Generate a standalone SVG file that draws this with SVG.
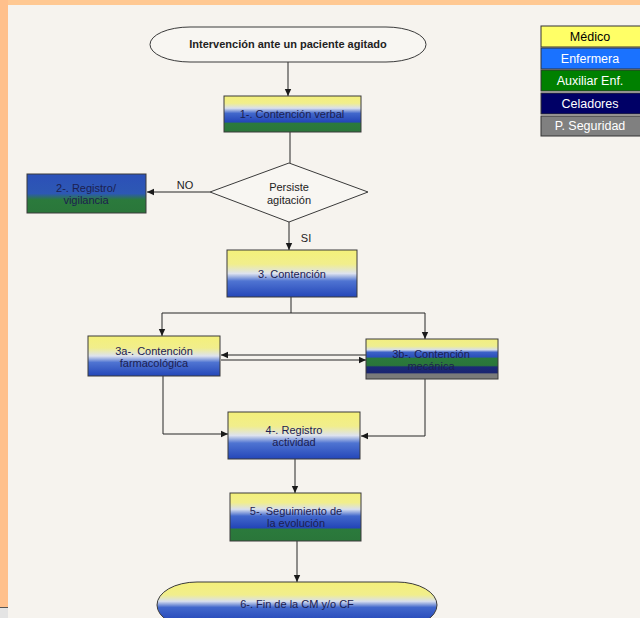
<svg xmlns="http://www.w3.org/2000/svg" width="640" height="618" viewBox="0 0 640 618">
<style>
.bx{stroke:#3a3a3a;stroke-width:1}
.t{font-family:"Liberation Sans",Arial,sans-serif;font-size:11px;fill:#1c2050;text-anchor:middle}
.tk{font-family:"Liberation Sans",Arial,sans-serif;font-size:11px;fill:#222;text-anchor:middle}
.c{fill:none;stroke:#262626;stroke-width:1}
.lg{font-family:"Liberation Sans",Arial,sans-serif;font-size:12.5px;text-anchor:middle}
</style>
<defs>
<marker id="ah" markerWidth="8" markerHeight="8" refX="7" refY="4" orient="auto" markerUnits="userSpaceOnUse">
<path d="M0,0.8 L7,4 L0,7.2 Z" fill="#1a1a1a"/>
</marker>
<linearGradient id="yb" x1="0" y1="0" x2="0" y2="1">
<stop offset="0" stop-color="#f4f07a"/>
<stop offset="0.3" stop-color="#f1ee8c"/>
<stop offset="0.5" stop-color="#dde2ee"/>
<stop offset="0.66" stop-color="#4f74d2"/>
<stop offset="1" stop-color="#2446b8"/>
</linearGradient>
<linearGradient id="ybg" x1="0" y1="0" x2="0" y2="1">
<stop offset="0" stop-color="#f4f07a"/>
<stop offset="0.2" stop-color="#f1ee8c"/>
<stop offset="0.34" stop-color="#d8dfee"/>
<stop offset="0.48" stop-color="#4268cc"/>
<stop offset="0.72" stop-color="#2446b8"/>
<stop offset="0.76" stop-color="#2b7a3c"/>
<stop offset="1" stop-color="#2a763a"/>
</linearGradient>
<linearGradient id="bg" x1="0" y1="0" x2="0" y2="1">
<stop offset="0" stop-color="#2c50b8"/>
<stop offset="0.5" stop-color="#2d58b4"/>
<stop offset="0.66" stop-color="#2b7a3c"/>
<stop offset="1" stop-color="#2a763a"/>
</linearGradient>
<linearGradient id="all" x1="0" y1="0" x2="0" y2="1">
<stop offset="0" stop-color="#f2ef80"/>
<stop offset="0.18" stop-color="#eeee90"/>
<stop offset="0.27" stop-color="#d6ddec"/>
<stop offset="0.33" stop-color="#3d62c8"/>
<stop offset="0.45" stop-color="#2a4fba"/>
<stop offset="0.48" stop-color="#2b7a3c"/>
<stop offset="0.66" stop-color="#2a763a"/>
<stop offset="0.7" stop-color="#1b2a78"/>
<stop offset="0.85" stop-color="#1a2470"/>
<stop offset="0.87" stop-color="#7a7a7a"/>
<stop offset="1" stop-color="#7a7a7a"/>
</linearGradient>
<linearGradient id="end" x1="0" y1="0" x2="0" y2="1">
<stop offset="0" stop-color="#f4f07a"/>
<stop offset="0.28" stop-color="#f1ee8c"/>
<stop offset="0.42" stop-color="#d8dfee"/>
<stop offset="0.55" stop-color="#4268cc"/>
<stop offset="0.86" stop-color="#2446b8"/>
<stop offset="0.9" stop-color="#2b7a3c"/>
<stop offset="1" stop-color="#2a763a"/>
</linearGradient>
</defs>
<rect x="0" y="0" width="640" height="618" fill="#f6f3ee"/>
<rect x="0" y="0" width="640" height="5" fill="#ffc892"/>
<rect x="0" y="0" width="8" height="607" fill="#ffc08c"/>
<rect x="0" y="607" width="8" height="1" fill="#555"/>
<rect x="0" y="608" width="8" height="10" fill="#e4e4e4"/>

<g id="connectors">
<path class="c" d="M288,62 V96" marker-end="url(#ah)"/>
<path class="c" d="M290,132 V163"/>
<path class="c" d="M210,192 H147" marker-end="url(#ah)"/>
<path class="c" d="M289,222 V250" marker-end="url(#ah)"/>
<path class="c" d="M291,297 V313 M162,313 H425"/>
<path class="c" d="M162,313 V336" marker-end="url(#ah)"/>
<path class="c" d="M425,313 V339" marker-end="url(#ah)"/>
<path class="c" d="M366,355 H221" marker-end="url(#ah)"/>
<path class="c" d="M221,360 H366" marker-end="url(#ah)"/>
<path class="c" d="M163,376 V434 H228" marker-end="url(#ah)"/>
<path class="c" d="M425,379 V436 H361" marker-end="url(#ah)"/>
<path class="c" d="M295,459 V493" marker-end="url(#ah)"/>
<path class="c" d="M297,541 V582" marker-end="url(#ah)"/>
<text class="tk" x="185" y="189">NO</text>
<text class="tk" x="306" y="242">SI</text>
</g>

<g id="start">
<rect class="bx" x="150" y="27" width="276" height="35" rx="40" ry="17.5" fill="#f8f6f2"/>
<text class="tk" x="288" y="48" font-weight="bold" style="font-size:11px">Intervención ante un paciente agitado</text>
</g>
<g id="n1">
<rect class="bx" x="224" y="96" width="137" height="36" fill="url(#ybg)"/>
<text class="t" x="292" y="118">1-. Contención verbal</text>
</g>
<g id="decision">
<polygon class="bx" points="289,163 368,192 289,222 210,192" fill="#f8f6f2"/>
<text class="tk" x="289" y="191">Persiste</text>
<text class="tk" x="289" y="204">agitación</text>
</g>
<g id="n2">
<rect class="bx" x="27" y="174" width="119" height="39" fill="url(#bg)"/>
<text class="t" x="86" y="192">2-. Registro/</text>
<text class="t" x="86" y="204">vigilancia</text>
</g>
<g id="n3">
<rect class="bx" x="227" y="250" width="130" height="47" fill="url(#yb)"/>
<text class="t" x="292" y="278">3. Contención</text>
</g>
<g id="n3a">
<rect class="bx" x="88" y="336" width="132" height="40" fill="url(#yb)"/>
<text class="t" x="154" y="355">3a-. Contención</text>
<text class="t" x="154" y="367">farmacológica</text>
</g>
<g id="n3b">
<rect class="bx" x="366" y="339" width="132" height="40" fill="url(#all)"/>
<text class="t" x="431" y="358">3b-. Contención</text>
<text class="t" x="431" y="370">mecánica</text>
</g>
<g id="n4">
<rect class="bx" x="228" y="412" width="132" height="47" fill="url(#yb)"/>
<text class="t" x="294" y="434">4-. Registro</text>
<text class="t" x="294" y="446">actividad</text>
</g>
<g id="n5">
<rect class="bx" x="230" y="493" width="131" height="48" fill="url(#ybg)"/>
<text class="t" x="296" y="515">5-. Seguimiento de</text>
<text class="t" x="296" y="527">la evolución</text>
</g>
<g id="n6">
<rect class="bx" x="157" y="582" width="280" height="46" rx="40" ry="23" fill="url(#end)"/>
<text class="t" x="297" y="608">6-. Fin de la CM y/o CF</text>
</g>

<g id="legend">
<rect x="541" y="26" width="100" height="21" fill="#ffff66" stroke="#333"/>
<text class="lg" x="590" y="41" fill="#000">Médico</text>
<rect x="541" y="48" width="100" height="21" fill="#1a72ff" stroke="#333"/>
<text class="lg" x="590" y="63" fill="#fff">Enfermera</text>
<rect x="541" y="70" width="100" height="21" fill="#008000" stroke="#333"/>
<text class="lg" x="590" y="85" fill="#fff">Auxiliar Enf.</text>
<rect x="541" y="93" width="100" height="21" fill="#000066" stroke="#333"/>
<text class="lg" x="590" y="108" fill="#fff">Celadores</text>
<rect x="541" y="116" width="100" height="20" fill="#808080" stroke="#333"/>
<text class="lg" x="590" y="130" fill="#fff">P. Seguridad</text>
</g>
</svg>
